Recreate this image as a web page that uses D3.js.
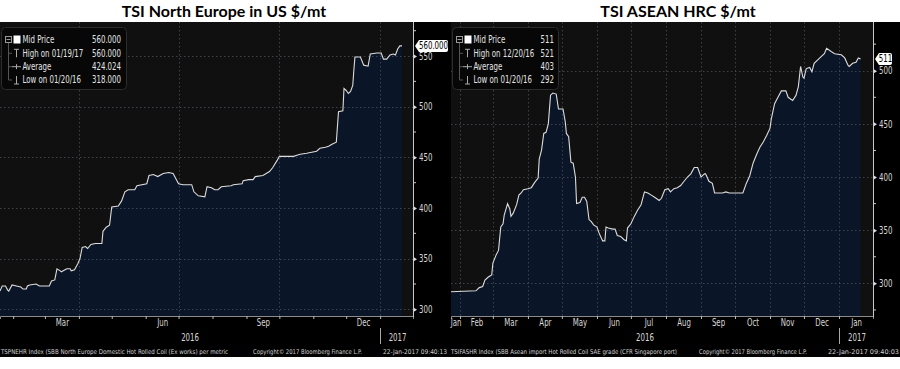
<!DOCTYPE html>
<html><head><meta charset="utf-8">
<script src="https://cdn.jsdelivr.net/npm/d3@7"></script>
<style>
body{margin:0;background:#fff;}
svg{display:block;}
.nar{font-family:'DejaVu Sans Condensed','Liberation Sans Narrow','Liberation Sans',sans-serif;}
</style></head><body>
<svg id="c" width="900" height="369"></svg>
<script>
// ---------- DATA ----------
const neTitle = "TSI North Europe in US $/mt";
const neDates = ["2016-01-20","2016-01-22","2016-01-25","2016-01-27","2016-01-28","2016-01-31","2016-02-04","2016-02-08","2016-02-10","2016-02-13","2016-02-14","2016-02-16","2016-02-22","2016-02-25","2016-03-05","2016-03-07","2016-03-10","2016-03-12","2016-03-15","2016-03-16","2016-03-21","2016-03-24","2016-03-25","2016-03-28","2016-03-31","2016-04-02","2016-04-04","2016-04-07","2016-04-09","2016-04-12","2016-04-16","2016-04-22","2016-04-23","2016-04-26","2016-04-29","2016-05-01","2016-05-07","2016-05-10","2016-05-13","2016-05-16","2016-05-22","2016-05-24","2016-06-02","2016-06-04","2016-06-08","2016-06-12","2016-06-17","2016-06-22","2016-06-26","2016-07-01","2016-07-05","2016-07-13","2016-07-15","2016-07-19","2016-07-25","2016-07-27","2016-07-31","2016-08-03","2016-08-06","2016-08-09","2016-08-18","2016-08-20","2016-08-28","2016-08-29","2016-09-03","2016-09-07","2016-09-09","2016-09-16","2016-09-19","2016-09-22","2016-09-25","2016-09-29","2016-10-01","2016-10-09","2016-10-14","2016-10-17","2016-10-20","2016-10-26","2016-11-04","2016-11-07","2016-11-12","2016-11-15","2016-11-18","2016-11-22","2016-11-24","2016-11-28","2016-11-29","2016-12-01","2016-12-03","2016-12-05","2016-12-07","2016-12-08","2016-12-09","2016-12-14","2016-12-17","2016-12-21","2016-12-23","2016-12-29","2017-01-02","2017-01-04","2017-01-07","2017-01-10","2017-01-13","2017-01-15","2017-01-17","2017-01-19","2017-01-21"];
const neValues = [318,323,323,319,318,324,323,322,320,320,323,324,325,323,323,328,329,340,338,337,340,340,338,339,345,350,361,362,360,364,365,365,377,381,383,401,402,407,416,418,418,422,424,432,433,431,434,435,434,424,423,423,416,412,411,421,420,418,418,421,422,423,424,427,428,428,431,432,434,436,440,447,451,451,451,452,453,454,456,459,460,461,463,465,495,496,518,516,513,515,521,536,549,549,541,540,552,553,553,547,547,551,552,551,557,560,560];
const neYTicks = [300,350,400,450,500,550];
const neYTickLabels = ["300","350","400","450","500","550"];
const neMinorTicks = [325,375,425,475,525,575];
const neMonthLabels = ["Mar","Jun","Sep","Dec"];
const neLegendLabels = ["Mid Price","High on 01/19/17","Average","Low on 01/20/16"];
const neLegendValues = ["560.000","560.000","424.024","318.000"];
const neLastLabel = "560.000";
const neFooter = ["TSPNEHR Index (SBB North Europe Domestic Hot Rolled Coil (Ex works) per  metric","Copyright\u00a9 2017 Bloomberg Finance L.P.","22-Jan-2017 09:40:13"];

const asTitle = "TSI ASEAN HRC $/mt";
const asDates = ["2016-01-20","2016-02-15","2016-02-18","2016-02-21","2016-02-23","2016-02-26","2016-02-29","2016-03-01","2016-03-04","2016-03-06","2016-03-08","2016-03-10","2016-03-11","2016-03-14","2016-03-16","2016-03-17","2016-03-19","2016-03-22","2016-03-24","2016-03-26","2016-03-28","2016-04-01","2016-04-04","2016-04-07","2016-04-10","2016-04-11","2016-04-13","2016-04-15","2016-04-17","2016-04-19","2016-04-21","2016-04-23","2016-04-26","2016-04-28","2016-05-02","2016-05-04","2016-05-05","2016-05-07","2016-05-09","2016-05-11","2016-05-13","2016-05-14","2016-05-17","2016-05-19","2016-05-21","2016-05-23","2016-05-25","2016-05-27","2016-05-29","2016-06-01","2016-06-03","2016-06-06","2016-06-08","2016-06-09","2016-06-11","2016-06-15","2016-06-17","2016-06-19","2016-06-22","2016-06-25","2016-06-27","2016-06-28","2016-07-01","2016-07-04","2016-07-07","2016-07-10","2016-07-13","2016-07-16","2016-07-19","2016-07-22","2016-07-26","2016-07-28","2016-07-31","2016-08-03","2016-08-05","2016-08-08","2016-08-11","2016-08-14","2016-08-17","2016-08-20","2016-08-23","2016-08-26","2016-08-29","2016-09-01","2016-09-04","2016-09-05","2016-09-08","2016-09-11","2016-09-13","2016-09-20","2016-09-23","2016-09-26","2016-10-08","2016-10-11","2016-10-14","2016-10-17","2016-10-20","2016-10-23","2016-10-26","2016-10-29","2016-11-01","2016-11-02","2016-11-05","2016-11-08","2016-11-11","2016-11-15","2016-11-17","2016-11-21","2016-11-24","2016-11-26","2016-11-28","2016-11-30","2016-12-01","2016-12-03","2016-12-06","2016-12-08","2016-12-10","2016-12-15","2016-12-19","2016-12-21","2016-12-25","2016-12-28","2017-01-03","2017-01-06","2017-01-09","2017-01-10","2017-01-13","2017-01-16","2017-01-18","2017-01-20"];
const asValues = [292,293,296,297,303,306,308,319,327,331,353,356,364,375,370,363,366,374,383,385,388,389,390,395,399,417,425,441,442,450,477,479,478,464,464,452,441,438,414,413,400,375,376,381,381,377,360,358,355,353,347,340,340,353,352,351,351,345,344,341,340,352,356,363,369,374,386,385,383,381,378,380,388,389,386,389,390,392,396,400,403,409,409,400,403,403,396,394,385,385,386,385,385,394,401,413,421,428,433,439,446,454,469,475,481,481,475,472,477,485,504,494,493,502,503,499,507,512,516,521,518,516,515,512,505,504,507,508,512,511];
const asYTicks = [300,350,400,450,500];
const asYTickLabels = ["300","350","400","450","500"];
const asMinorTicks = [275,325,375,425,475,525];
const asMonthLabels = ["Jan","Feb","Mar","Apr","May","Jun","Jul","Aug","Sep","Oct","Nov","Dec","Jan"];
const asLegendLabels = ["Mid Price","High on 12/20/16","Average","Low on 01/20/16"];
const asLegendValues = ["511","521","403","292"];
const asLastLabel = "511";
const asFooter = ["TSIFASHR Index (SBB Asean import Hot Rolled Coil SAE grade (CFR Singapore port)","Copyright\u00a9 2017 Bloomberg Finance L.P.","22-Jan-2017 09:40:03"];

const yearLabels = ["2016","2017"];

// ---------- DRAW ----------
const svg = d3.select("#c");
const P = d3.utcParse("%Y-%m-%d");
const TOP = 22, BOT = 316, SX = 0.78;

// condensed look: horizontal squeeze of a text around its own x
function narrow(sel){
  sel.each(function(){
    const t = d3.select(this);
    const x = +(t.attr("x")||0);
    t.attr("class","nar").attr("font-family",null).attr("x", x/SX).attr("transform",`scale(${SX},1)`);
  });
  return sel;
}

function drawChart(c, idx){
  const g = svg.append("g");
  const data = c.dates.map((d,i)=>({d:P(d), v:c.values[i]}));
  g.append("rect").attr("x",c.p0).attr("y",TOP).attr("width",c.p1-c.p0).attr("height",357-TOP).attr("fill","#000");
  g.append("rect").attr("x",c.x0).attr("y",TOP).attr("width",c.ax-c.x0).attr("height",BOT-TOP).attr("fill","#101010");
  const x = d3.scaleUtc().domain([P(c.d0),P(c.d1)]).range([c.x0,c.ax]);
  const y = d3.scaleLinear().domain([c.ymin,c.ymax]).range([BOT,TOP]);
  const cid = "clip"+idx;
  g.append("clipPath").attr("id",cid).append("rect").attr("x",c.x0).attr("y",TOP).attr("width",c.ax-c.x0).attr("height",BOT-TOP);
  const area = d3.area().x(d=>x(d.d)).y0(BOT).y1(d=>y(d.v));
  const line = d3.line().x(d=>x(d.d)).y(d=>y(d.v));
  const pg = g.append("g").attr("clip-path",`url(#${cid})`);
  pg.append("path").datum(data).attr("d",area).attr("fill","#0b1528");
  pg.selectAll(".hg").data(c.yTicks).enter().append("line")
    .attr("x1",c.x0).attr("x2",c.ax).attr("y1",d=>Math.round(y(d))+0.5).attr("y2",d=>Math.round(y(d))+0.5)
    .attr("stroke","#4a4f58").attr("stroke-width",0.8).attr("stroke-dasharray","1.5,2.5");
  pg.selectAll(".vg").data(c.vgrid.map(P)).enter().append("line")
    .attr("x1",d=>Math.round(x(d))+0.5).attr("x2",d=>Math.round(x(d))+0.5).attr("y1",TOP).attr("y2",BOT)
    .attr("stroke","#4a4f58").attr("stroke-width",0.8).attr("stroke-dasharray","1.5,2.5");
  pg.append("path").datum(data).attr("d",line).attr("fill","none").attr("stroke","#dcdcdc").attr("stroke-width",1.1);

  // x axis (month ticks)
  const months = d3.utcMonth.range(P(c.d0), P(c.d1));
  const xa = g.append("g").attr("transform",`translate(0,${BOT})`)
    .call(d3.axisBottom(x).tickValues(months).tickSize(3).tickFormat(""));
  xa.select(".domain").attr("stroke","#8a8a8a");
  xa.selectAll(".tick line").attr("stroke","#bbb");
  const mAll = d3.utcMonth.range(d3.utcMonth.floor(P(c.d0)), P(c.d1));
  const mids = mAll.map(m=>{
    const s = Math.max(+m, +P(c.d0)), e = Math.min(+d3.utcMonth.offset(m,1), +P(c.d1));
    return {m, mid:new Date((s+e)/2), name:d3.utcFormat("%b")(m)};
  }).filter(o=>c.monthLabels.includes(o.name));
  const ml = g.append("g").attr("transform",`translate(0,${BOT})`)
    .call(d3.axisBottom(x).tickValues(mids.map(o=>o.mid)).tickSize(0).tickPadding(0)
      .tickFormat((d,i)=>mids[i].name));
  ml.select(".domain").remove();
  narrow(ml.selectAll("text").attr("font-size",10).attr("fill","#d8d8d8").attr("dy","1.05em"));
  const jan = P("2017-01-01");
  g.append("line").attr("x1",Math.round(x(jan))+0.5).attr("x2",Math.round(x(jan))+0.5).attr("y1",328).attr("y2",344).attr("stroke","#aaa");
  narrow(g.append("text").attr("x",(c.x0+x(jan))/2).attr("y",341).attr("text-anchor","middle").attr("font-size",10).attr("fill","#d8d8d8").text(yearLabels[0]));
  narrow(g.append("text").attr("x",(x(jan)+c.ax)/2+1).attr("y",341).attr("text-anchor","middle").attr("font-size",10).attr("fill","#d8d8d8").text(yearLabels[1]));

  // y axis
  const ya = g.append("g").attr("transform",`translate(${c.ax},0)`)
    .call(d3.axisRight(y).tickValues(c.yTicks).tickSize(0).tickPadding(6).tickFormat((d,i)=>c.yTickLabels[i]));
  ya.select(".domain").remove();
  narrow(ya.selectAll("text").attr("font-size",10).attr("fill","#d8d8d8"));
  ya.selectAll(".tick").append("path").attr("d","M0,-2.5L4,0L0,2.5Z").attr("fill","#ddd");
  g.append("line").attr("x1",c.ax+0.5).attr("x2",c.ax+0.5).attr("y1",TOP).attr("y2",BOT+1).attr("stroke","#c8c8c8");
  g.selectAll(".mt").data(c.minor.filter(v=>v>c.ymin&&v<c.ymax)).enter().append("line")
    .attr("x1",c.ax).attr("x2",c.ax+3).attr("y1",d=>y(d)).attr("y2",d=>y(d)).attr("stroke","#ccc");

  // last value label
  const lv = y(c.values[c.values.length-1]);
  const lx = c.ax+2, lw = c.lastW;
  g.append("path").attr("d",`M${lx},${lv}L${lx+4},${lv-6}L${lx+lw},${lv-6}Q${lx+lw+2},${lv-6} ${lx+lw+2},${lv-4}L${lx+lw+2},${lv+4}Q${lx+lw+2},${lv+6} ${lx+lw},${lv+6}L${lx+4},${lv+6}Z`).attr("fill","#fff");
  narrow(g.append("text").attr("x",lx+3+(lw)/2).attr("y",lv+3.5).attr("text-anchor","middle").attr("font-size",10).attr("fill","#000").text(c.lastLabel));

  // legend
  const L = g.append("g").attr("transform",`translate(${c.x0},0)`);
  L.append("rect").attr("x",1.5).attr("y",27.5).attr("width",c.legW).attr("height",62).attr("rx",4).attr("fill","#070707").attr("stroke","#2c2c2c");
  const rows=[40,53.3,66.7,80];
  L.append("rect").attr("x",5.5).attr("y",rows[0]-3.5).attr("width",6).attr("height",6).attr("fill","none").attr("stroke","#999");
  L.append("line").attr("x1",6.5).attr("x2",10.5).attr("y1",rows[0]-0.5).attr("y2",rows[0]-0.5).attr("stroke","#999");
  L.append("rect").attr("x",13.5).attr("y",rows[0]-4.5).attr("width",7).attr("height",8).attr("fill","#fff");
  L.append("line").attr("x1",8.5).attr("x2",8.5).attr("y1",rows[0]+3).attr("y2",rows[3]).attr("stroke","#555");
  [1,2,3].forEach(i=>L.append("line").attr("x1",8.5).attr("x2",12).attr("y1",rows[i]).attr("y2",rows[i]).attr("stroke","#555"));
  L.append("path").attr("d",`M14,${rows[1]-4}H19M16.5,${rows[1]-4}V${rows[1]+4}`).attr("stroke","#aaa").attr("fill","none");
  L.append("path").attr("d",`M12,${rows[2]}H21M16.5,${rows[2]-2.5}V${rows[2]+2.5}`).attr("stroke","#aaa").attr("fill","none");
  L.append("path").attr("d",`M16.5,${rows[3]-4}V${rows[3]+4}M14,${rows[3]+4}H19`).attr("stroke","#aaa").attr("fill","none");
  c.legLabels.forEach((t,i)=>{
    narrow(L.append("text").attr("x",22.5).attr("y",rows[i]+3.5).attr("font-size",10).attr("fill","#e4e4e4").text(t));
    narrow(L.append("text").attr("x",c.legValX).attr("y",rows[i]+3.5).attr("text-anchor","end").attr("font-size",10).attr("fill","#e4e4e4").text(c.legValues[i]));
  });

  // footer
  c.footer.forEach((t,i)=>{
    g.append("text").attr("class","nar").attr("x",c.footX[i]).attr("y",354).attr("font-size",6.5).attr("fill","#d0d0d0")
      .attr("textLength",c.footW[i]).attr("lengthAdjust","spacingAndGlyphs").text(t);
  });

  // title
  svg.append("text").attr("x",c.titleX).attr("y",17).attr("text-anchor","middle")
    .attr("font-family","Lato, 'Open Sans', sans-serif").attr("font-weight","bold").attr("font-size",16).attr("fill","#000").text(c.title);
}

drawChart({
  title:neTitle, titleX:224, dates:neDates, values:neValues,
  p0:0, p1:450, x0:0, ax:413, d0:"2016-01-20", d1:"2017-01-31",
  ymin:293.4, ymax:583.6, yTicks:neYTicks, yTickLabels:neYTickLabels, minor:neMinorTicks,
  vgrid:["2016-04-01","2016-07-01","2016-10-01","2017-01-01"],
  monthLabels:neMonthLabels, legLabels:neLegendLabels, legValues:neLegendValues, legW:125, legValX:121,
  lastLabel:neLastLabel, lastW:31,
  footer:neFooter, footX:[1,253,383], footW:[227,109,64]
},0);

drawChart({
  title:asTitle, titleX:678, dates:asDates, values:asValues,
  p0:450, p1:900, x0:451, ax:873, d0:"2016-01-24", d1:"2017-01-31",
  ymin:269.3, ymax:545.8, yTicks:asYTicks, yTickLabels:asYTickLabels, minor:asMinorTicks,
  vgrid:["2016-02-01","2016-03-01","2016-04-01","2016-05-01","2016-06-01","2016-07-01","2016-08-01","2016-09-01","2016-10-01","2016-11-01","2016-12-01","2017-01-01"],
  monthLabels:asMonthLabels, legLabels:asLegendLabels, legValues:asLegendValues, legW:106, legValX:103,
  lastLabel:asLastLabel, lastW:15,
  footer:asFooter, footX:[451,699,828], footW:[226,108,71]
},1);
</script>
</body></html>
